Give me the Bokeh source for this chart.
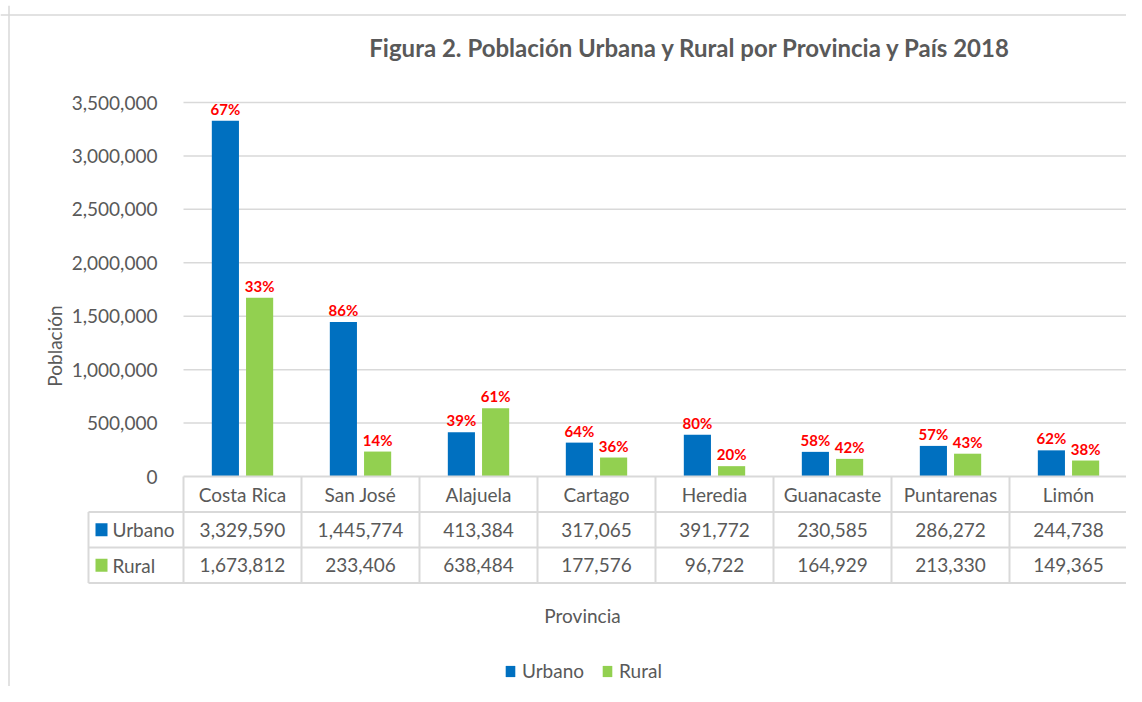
from bokeh.plotting import figure
from bokeh.models import (Range1d, LinearAxis, FixedTicker, NumeralTickFormatter,
                          Legend, LegendItem, Span)
from bokeh.core.properties import value
from bokeh.embed import file_html
from bokeh.resources import INLINE
import numpy as np

# ---------------- data ----------------
provincias = ["Costa Rica", "San José", "Alajuela", "Cartago", "Heredia",
              "Guanacaste", "Puntarenas", "Limón"]
urbano = [3329590, 1445774, 413384, 317065, 391772, 230585, 286272, 244738]
rural = [1673812, 233406, 638484, 177576, 96722, 164929, 213330, 149365]
pct_urbano = ["67%", "86%", "39%", "64%", "80%", "58%", "57%", "62%"]
pct_rural = ["33%", "14%", "61%", "36%", "20%", "42%", "43%", "38%"]
y_ticks = [0, 500000, 1000000, 1500000, 2000000, 2500000, 3000000, 3500000]
series_names = ["Urbano", "Rural"]

# ---------------- style / layout ----------------
FONT = "Lato"
TXT = "#595959"
BLUE = "#0070C0"
GREEN = "#92D050"
GRID = "#d9d9d9"
W, H = 1126, 686
PAGE_X0, PAGE_Y0 = 0, 0
TOP_BORDER = 5

COL_LEFT, COL_W = 183.0, 118.0      # px of first category column, column width
ZERO_Y, PX_PER_UNIT = 476.0, 374.0 / 3500000.0
ROW_H = 35.5


def px2u(px):
    return (px - COL_LEFT) / COL_W


def py2v(py):
    return (ZERO_Y - py) / PX_PER_UNIT


def py2r(py):
    return (py - ZERO_Y) / ROW_H


frame_left = PAGE_X0
frame_right = PAGE_X0 + W
frame_top = PAGE_Y0 + TOP_BORDER
frame_bottom = PAGE_Y0 + H

p = figure(width=W, height=H, output_backend="svg", toolbar_location=None,
           x_range=Range1d(px2u(frame_left), px2u(frame_right)),
           y_range=Range1d(py2v(frame_bottom), py2v(frame_top)),
           x_axis_location=None, y_axis_location=None,
           min_border_left=0, min_border_right=0, min_border_bottom=0,
           min_border_top=TOP_BORDER)
p.outline_line_color = None
p.xgrid.visible = False
p.ygrid.visible = False
p.extra_y_ranges = {"tbl": Range1d(start=py2r(frame_bottom), end=py2r(frame_top))}

n = len(provincias)
pos = np.arange(n) + 0.5
x_u = pos - 0.145
x_r = pos + 0.145

# chart border (left and top)
p.add_layout(Span(location=px2u(8.5), dimension="height", line_color=GRID, line_width=1.5))
p.add_layout(Span(location=py2v(14.5), dimension="width", line_color=GRID, line_width=1.5))

# gridlines
gt = y_ticks[1:]
p.segment(x0=[0] * len(gt), x1=[n] * len(gt), y0=gt, y1=gt, line_color=GRID, line_width=1.5)

# bars
rb_u = p.vbar(x=x_u, top=urbano, bottom=0, width=0.23, fill_color=BLUE, line_color=None)
rb_r = p.vbar(x=x_r, top=rural, bottom=0, width=0.23, fill_color=GREEN, line_color=None)

# percent labels
for xs, tops, labs in ((x_u, urbano, pct_urbano), (x_r, rural, pct_rural)):
    p.text(x=xs, y=tops, text=labs, text_align="center", text_baseline="bottom",
           y_offset=-3, text_font=value(FONT), text_font_style="bold",
           text_font_size="15px", text_color="#FF0000")

# y axis
yax = LinearAxis(fixed_location=0, ticker=FixedTicker(ticks=y_ticks),
                 formatter=NumeralTickFormatter(format="0,0"),
                 axis_label="Población")
yax.axis_line_color = None
yax.major_tick_line_color = None
yax.minor_tick_line_color = None
yax.major_label_standoff = 20
yax.major_label_text_font = FONT
yax.major_label_text_font_size = "19px"
yax.major_label_text_color = TXT
yax.axis_label_text_font = FONT
yax.axis_label_text_font_size = "19px"
yax.axis_label_text_font_style = "normal"
yax.axis_label_text_color = TXT
yax.axis_label_standoff = 3
p.add_layout(yax, "left")

# data table lines
lx = px2u(88)
hx0 = [0, lx, lx, lx]
hy = [0, 1, 2, 3]
p.segment(x0=hx0, x1=[n] * 4, y0=hy, y1=hy, line_color=GRID, line_width=2, y_range_name="tbl")
vx = list(range(n + 1))
p.segment(x0=vx, x1=vx, y0=[0] * len(vx), y1=[3] * len(vx), line_color=GRID,
          line_width=2, y_range_name="tbl")
p.segment(x0=[lx], x1=[lx], y0=[1], y1=[3], line_color=GRID, line_width=2, y_range_name="tbl")

# table texts
common = dict(text_align="center", text_baseline="middle", text_font=value(FONT),
              text_font_size="19px", text_color=TXT, y_range_name="tbl")
p.text(x=pos, y=[0.5] * n, text=provincias, **common)
p.text(x=pos, y=[1.5] * n, text=[f"{v:,}" for v in urbano], **common)
p.text(x=pos, y=[2.5] * n, text=[f"{v:,}" for v in rural], **common)

# row headers
p.rect(x=[px2u(101)] * 2, y=[1.5, 2.5], width=12, height=13, width_units="screen",
       height_units="screen", fill_color=[BLUE, GREEN], line_color=None, y_range_name="tbl")
p.text(x=[px2u(112)] * 2, y=[1.5, 2.5], text=series_names, text_align="left",
       text_baseline="middle", text_font=value(FONT), text_font_size="19px",
       text_color=TXT, y_range_name="tbl")

# title and x-axis title
p.text(x=[px2u(690)], y=[py2v(47)], text=["Figura 2. Población Urbana y Rural por Provincia y País 2018"],
       text_align="center", text_baseline="middle", text_font=value(FONT),
       text_font_style="bold", text_font_size="24px", text_color=TXT)
p.text(x=[px2u(582)], y=[py2v(615)], text=["Provincia"], text_align="center",
       text_baseline="middle", text_font=value(FONT), text_font_size="19px", text_color=TXT)

# legend
legend = Legend(items=[LegendItem(label=series_names[0], renderers=[rb_u]),
                       LegendItem(label=series_names[1], renderers=[rb_r])],
                orientation="horizontal", location=(504 - frame_left, frame_bottom - 682))
legend.glyph_width = 12
legend.glyph_height = 14
legend.label_standoff = 6
legend.spacing = 17
legend.padding = 0
legend.margin = 0
legend.border_line_color = None
legend.background_fill_alpha = 0
legend.label_text_font = FONT
legend.label_text_font_size = "19px"
legend.label_text_color = TXT
p.add_layout(legend)

open("out.html", "w").write(file_html(p, INLINE))
